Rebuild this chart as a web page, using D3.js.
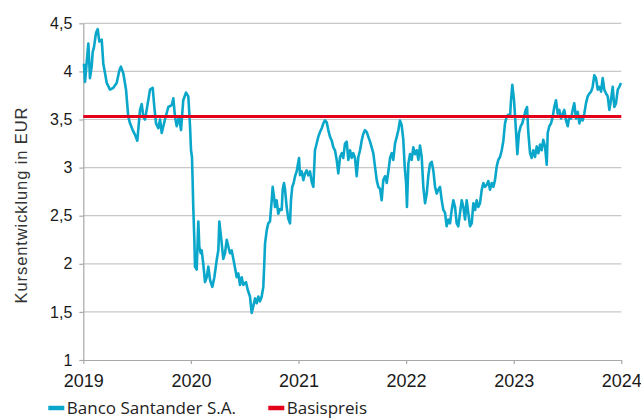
<!DOCTYPE html>
<html><head><meta charset="utf-8">
<script src="https://cdn.jsdelivr.net/npm/d3@7"></script>
<style>body{margin:0;background:#fff}svg{display:block}</style>
</head><body>
<script>
// Time as decimal years, price in EUR
const years = [2019.006,2019.016,2019.032,2019.047,2019.062,2019.078,2019.087,2019.099,2019.118,2019.134,2019.149,2019.171,2019.186,2019.202,2019.218,2019.248,2019.279,2019.310,2019.335,2019.350,2019.372,2019.397,2019.418,2019.434,2019.459,2019.481,2019.502,2019.527,2019.543,2019.558,2019.573,2019.589,2019.620,2019.645,2019.660,2019.676,2019.697,2019.713,2019.729,2019.759,2019.790,2019.822,2019.837,2019.852,2019.868,2019.889,2019.908,2019.929,2019.955,2019.976,2019.992,
2020.001,2020.010,2020.015,2020.022,2020.032,2020.038,2020.054,2020.069,2020.078,2020.091,2020.100,2020.115,2020.131,2020.147,2020.162,2020.178,2020.199,2020.218,2020.240,2020.255,2020.264,2020.280,2020.301,2020.317,2020.333,2020.348,2020.363,2020.379,2020.403,2020.426,2020.441,2020.456,2020.472,2020.487,2020.512,2020.528,2020.549,2020.565,2020.580,2020.596,2020.612,2020.626,2020.642,2020.658,2020.673,2020.682,2020.689,2020.705,2020.719,2020.735,2020.751,2020.760,2020.772,2020.782,2020.797,2020.812,2020.828,2020.844,2020.853,2020.865,2020.875,2020.890,2020.905,2020.921,2020.930,2020.942,2020.955,2020.968,2020.983,
2021.005,2021.014,2021.030,2021.045,2021.061,2021.076,2021.091,2021.107,2021.123,2021.138,2021.153,2021.169,2021.184,2021.200,2021.216,2021.231,2021.246,2021.262,2021.277,2021.293,2021.309,2021.324,2021.339,2021.355,2021.370,2021.386,2021.402,2021.416,2021.432,2021.448,2021.463,2021.479,2021.495,2021.509,2021.525,2021.541,2021.556,2021.572,2021.587,2021.602,2021.618,2021.634,2021.649,2021.665,2021.680,2021.695,2021.711,2021.727,2021.742,2021.758,2021.773,2021.788,2021.804,2021.820,2021.835,2021.851,2021.866,2021.881,2021.897,2021.913,2021.928,2021.943,2021.959,2021.974,2021.987,
2022.000,2022.008,2022.021,2022.036,2022.052,2022.067,2022.083,2022.099,2022.114,2022.129,2022.145,2022.160,2022.176,2022.192,2022.206,2022.222,2022.238,2022.253,2022.269,2022.285,2022.299,2022.315,2022.331,2022.346,2022.362,2022.377,2022.392,2022.408,2022.424,2022.439,2022.455,2022.470,2022.485,2022.501,2022.517,2022.532,2022.548,2022.563,2022.578,2022.594,2022.610,2022.625,2022.641,2022.656,2022.671,2022.687,2022.703,2022.718,2022.733,2022.749,2022.764,2022.780,2022.796,2022.811,2022.826,2022.842,2022.857,2022.873,2022.889,2022.904,2022.919,2022.935,2022.950,2022.966,2022.975,2022.987,
2023.003,2023.019,2023.034,2023.049,2023.065,2023.080,2023.096,2023.112,2023.124,2023.136,2023.152,2023.167,2023.182,2023.198,2023.214,2023.229,2023.245,2023.260,2023.275,2023.291,2023.307,2023.316,2023.331,2023.347,2023.363,2023.377,2023.393,2023.409,2023.424,2023.440,2023.456,2023.470,2023.486,2023.502,2023.517,2023.533,2023.548,2023.563,2023.579,2023.595,2023.610,2023.626,2023.641,2023.656,2023.672,2023.688,2023.703,2023.719,2023.734,2023.749,2023.765,2023.781,2023.796,2023.812,2023.827,2023.842,2023.858,2023.874,2023.889,2023.904,2023.920,2023.935,2023.951,2023.967,2023.982,2023.997];

const prices = [4.08,3.89,4.10,4.29,3.93,4.05,4.20,4.25,4.40,4.44,4.31,4.33,4.08,3.98,3.88,3.81,3.83,3.88,4.01,4.05,3.98,3.81,3.53,3.46,3.39,3.34,3.28,3.60,3.66,3.53,3.50,3.60,3.81,3.83,3.63,3.46,3.41,3.50,3.36,3.50,3.63,3.65,3.72,3.53,3.43,3.53,3.39,3.70,3.78,3.74,3.43,
3.18,3.11,2.91,2.59,2.25,1.97,1.94,2.44,2.18,2.11,2.14,2.00,1.81,1.86,1.97,1.83,1.76,1.86,2.04,2.14,2.44,2.28,2.05,2.11,2.25,2.18,2.11,2.14,2.00,1.86,1.90,1.78,1.86,1.78,1.81,1.73,1.66,1.49,1.56,1.64,1.59,1.66,1.61,1.66,1.76,2.00,2.21,2.35,2.42,2.44,2.66,2.80,2.70,2.59,2.66,2.52,2.57,2.56,2.77,2.84,2.77,2.59,2.47,2.42,2.66,2.80,2.84,2.91,2.96,
3.10,2.92,2.96,2.87,2.94,2.97,2.92,2.96,2.85,2.80,3.18,3.25,3.32,3.37,3.41,3.46,3.49,3.47,3.39,3.32,3.28,3.21,3.18,3.08,2.94,3.11,3.15,3.10,3.25,3.27,3.08,3.18,3.10,3.15,3.10,2.91,3.11,3.18,3.28,3.35,3.39,3.37,3.32,3.27,3.21,3.15,3.01,2.87,2.80,2.78,2.66,2.87,2.91,2.84,2.96,3.10,3.15,3.08,3.25,3.32,3.39,3.49,3.44,3.29,3.01,
2.84,2.59,3.04,3.14,3.08,3.21,3.14,3.18,3.08,3.23,3.11,2.80,2.63,2.73,2.91,3.04,3.06,2.97,2.80,2.73,2.77,2.80,2.66,2.56,2.53,2.39,2.46,2.42,2.56,2.66,2.59,2.42,2.39,2.53,2.66,2.59,2.46,2.66,2.53,2.39,2.42,2.63,2.56,2.66,2.59,2.63,2.77,2.84,2.80,2.82,2.86,2.77,2.84,2.80,2.87,3.01,3.08,3.11,3.18,3.28,3.46,3.53,3.55,3.53,3.70,3.86,
3.70,3.42,3.14,3.36,3.43,3.46,3.53,3.60,3.63,3.36,3.15,3.10,3.18,3.11,3.22,3.15,3.24,3.18,3.29,3.22,3.03,3.36,3.43,3.46,3.53,3.63,3.70,3.56,3.60,3.51,3.56,3.60,3.49,3.43,3.53,3.51,3.60,3.67,3.51,3.58,3.46,3.53,3.49,3.56,3.67,3.74,3.77,3.79,3.84,3.96,3.93,3.81,3.84,3.79,3.93,3.81,3.77,3.74,3.60,3.70,3.84,3.63,3.67,3.81,3.84,3.88];

const basisPrice = 3.53;
const yTicks = [1, 1.5, 2, 2.5, 3, 3.5, 4, 4.5];
const xTicks = [2019, 2020, 2021, 2022, 2023, 2024];
const seriesNames = ["Banco Santander S.A.", "Basispreis"];
const seriesColors = ["#0aa7cb", "#e2001a"];
const yTitle = "Kursentwicklung in EUR";

const W = 641, H = 418;
const L = 83.3, R = 621.3, T = 23.3, B = 360;
const ARIAL = "'Liberation Sans', Arial, Helvetica, sans-serif";

const svg = d3.select("body").append("svg").attr("width", W).attr("height", H);
const x = d3.scaleLinear().domain([2019, 2024]).range([L, R]);
const y = d3.scaleLinear().domain([1, 4.5]).range([B, T]);

// gridlines
svg.append("g").selectAll("line").data(yTicks.filter(d => d > 1)).join("line")
  .attr("x1", L).attr("x2", R).attr("y1", d => y(d)).attr("y2", d => y(d))
  .attr("stroke", "#c8c8c8").attr("stroke-width", 1.2);

// y axis
const yAxis = svg.append("g").attr("transform", `translate(${L},0)`)
  .call(d3.axisLeft(y).tickValues(yTicks).tickSize(4).tickSizeOuter(0).tickPadding(7)
    .tickFormat(d => String(d).replace(".", ",")));
yAxis.attr("font-family", null);
yAxis.selectAll("path,line").attr("stroke", "#a8a8a8").attr("stroke-width", 1.2);
yAxis.selectAll("text").style("font-family", ARIAL)
  .style("font-size", "16px").attr("fill", "#1a1a1a");

// x axis
const xAxis = svg.append("g").attr("transform", `translate(0,${B})`)
  .call(d3.axisBottom(x).tickValues(xTicks).tickSize(4).tickSizeOuter(0).tickPadding(10)
    .tickFormat(d3.format("d")));
xAxis.attr("font-family", null);
xAxis.selectAll("path,line").attr("stroke", "#a8a8a8").attr("stroke-width", 1.2);
xAxis.selectAll("text").style("font-family", ARIAL)
  .style("font-size", "18px").attr("fill", "#1a1a1a");

// y title
svg.append("text").attr("transform", `translate(26.5,205) rotate(-90)`)
  .attr("text-anchor", "middle").style("font-family", ARIAL)
  .style("font-size", "16.5px").style("letter-spacing", "0.9px").attr("fill", "#333").text(yTitle);

// price line
const line = d3.line().x((d, i) => x(years[i])).y(d => y(d));
svg.append("path").datum(prices).attr("d", line).attr("fill", "none")
  .attr("stroke", seriesColors[0]).attr("stroke-width", 2.6).attr("stroke-linejoin", "round");

// basis line
svg.append("line").attr("x1", x(2019)).attr("x2", x(2024))
  .attr("y1", y(basisPrice)).attr("y2", y(basisPrice))
  .attr("stroke", seriesColors[1]).attr("stroke-width", 3);

// legend
const legendX = [48.3, 268.3];
const lg = svg.append("g").selectAll("g").data(seriesNames).join("g")
  .attr("transform", (d, i) => `translate(${legendX[i]},0)`);
lg.append("line").attr("x1", 0).attr("x2", 16).attr("y1", 408).attr("y2", 408)
  .attr("stroke", (d, i) => seriesColors[i]).attr("stroke-width", 4.5);
lg.append("text").attr("x", 18.5).attr("y", 413.5).style("font-family", "'Open Sans', sans-serif")
  .style("font-size", "17px").attr("fill", "#222").text(d => d);
</script>
</body></html>
